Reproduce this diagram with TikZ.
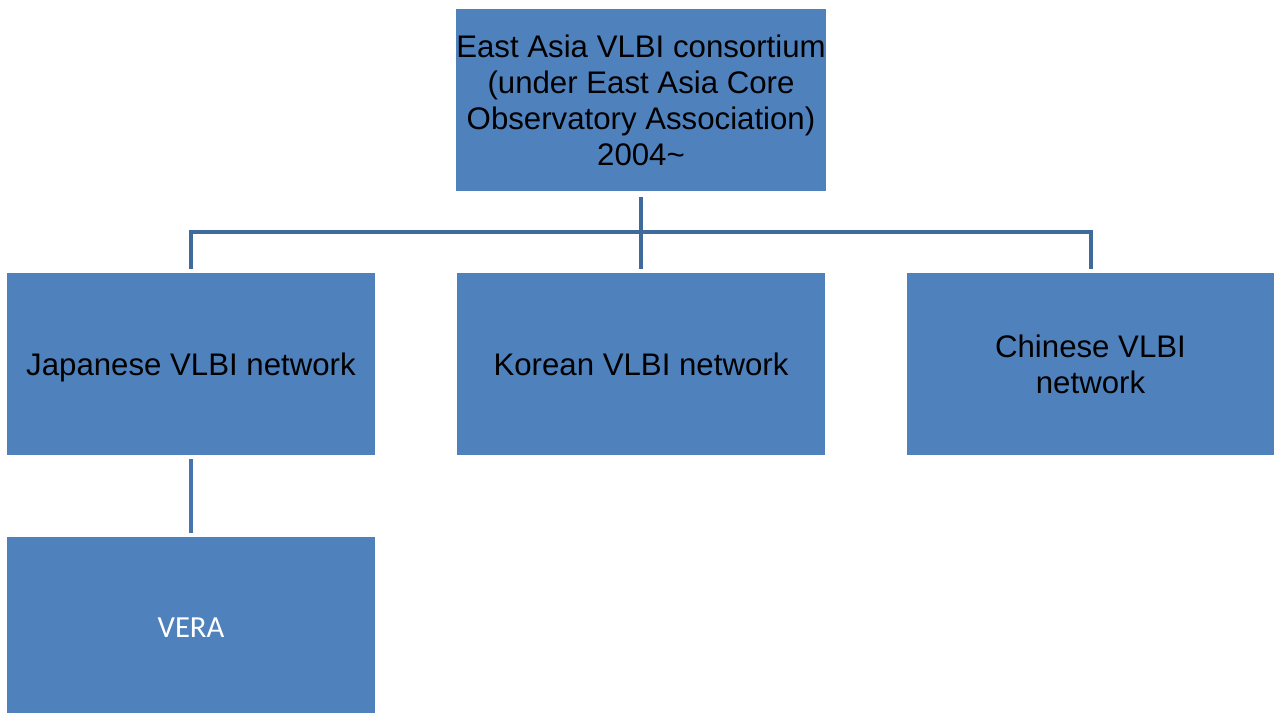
\documentclass[tikz,border=0pt]{standalone}
\usepackage{fontspec}
\setmainfont{Liberation Sans}
\newfontfamily\carlito{Carlito}
\definecolor{boxfill}{HTML}{4F81BD}
\definecolor{linedark}{HTML}{3E6A9C}
\definecolor{linelight}{HTML}{4574AE}
\begin{document}
\begin{tikzpicture}[x=0.75pt,y=-0.75pt,
  orgbox/.style={rectangle, fill=boxfill, draw=none, inner sep=0pt,
    minimum width=276pt, minimum height=136.5pt, align=center,
    font=\fontsize{23.4}{27}\selectfont, text=black},
  conn/.style={draw=linedark, line width=3pt, miter limit=10},
  connb/.style={draw=linelight, line width=3pt}]
\useasboundingbox (0,0) rectangle (1274,713);
\clip (0,0) rectangle (1274,713);
\node[orgbox] (top) at (641,100.5) {East Asia VLBI consortium\\(under East Asia Core\\Observatory Association)\\2004\textasciitilde};
\node[orgbox, text depth=0pt] (jp) at (191,364) {Japanese VLBI network};
\node[orgbox] (kr) at (641,364) {Korean VLBI network};
\node[orgbox, minimum width=275.25pt] (cn) at (1090.5,364) {Chinese VLBI\\network};
\node[orgbox, text=white, font=\carlito\fontsize{23}{27}\selectfont] (vera) at (191,628) {VERA};
\draw[conn, shorten <=3.75pt, shorten >=3pt] (top.south) -- (kr.north);
\draw[conn, shorten <=3pt, shorten >=3pt] (jp.north) -- ++(0,-41) -| (cn.north);
\draw[connb, shorten <=3pt, shorten >=3pt] (jp.south) -- (vera.north);
\end{tikzpicture}
\end{document}
